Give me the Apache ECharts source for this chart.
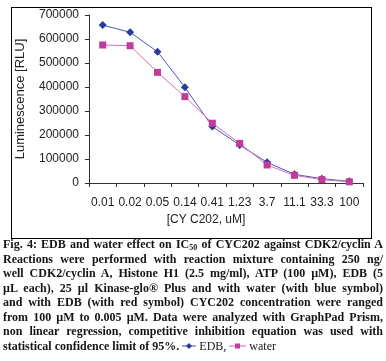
<!DOCTYPE html>
<html>
<head>
<meta charset="utf-8">
<script src="https://cdn.jsdelivr.net/npm/echarts@6/dist/echarts.min.js"></script>
<style>
  html, body { margin: 0; padding: 0; background: #fff; }
  #wrap { position: relative; width: 386px; height: 361px; overflow: hidden; }
  #chart { position: absolute; left: 0; top: 0; width: 386px; height: 361px; z-index: 1; }
  #box { position: absolute; left: 11px; top: 7px; width: 359px; height: 230px; border: 1px solid #000; pointer-events: none; z-index: 10; }
  #cap { position: absolute; left: 3px; top: 237px; width: 380px; z-index: 5;
         font-family: "Liberation Serif", serif; font-weight: bold; font-size: 12px;
         line-height: 14.5px; color: #151515; }
  #cap .l { text-align: justify; text-align-last: justify; white-space: normal; }
  #cap .last { text-align: left; }
  #cap sub { font-size: 8px; line-height: 0; vertical-align: -2px; }
  .lg { font-weight: normal; }
</style>
</head>
<body>
<div id="wrap">
  <div id="chart"></div>
  <div id="box"></div>
  <div id="cap">
    <div class="l">Fig. 4: EDB and water effect on IC<sub>50</sub> of CYC202 against CDK2/cyclin A</div>
    <div class="l">Reactions were performed with reaction mixture containing 250 ng/</div>
    <div class="l">well CDK2/cyclin A, Histone H1 (2.5 mg/ml), ATP (100 µM), EDB (5</div>
    <div class="l">µL each), 25 µl Kinase-glo® Plus and with water (with blue symbol)</div>
    <div class="l">and with EDB (with red symbol) CYC202 concentration were ranged</div>
    <div class="l">from 100 µM to 0.005 µM. Data were analyzed with GraphPad Prism,</div>
    <div class="l">non linear regression, competitive inhibition equation was used with</div>
    <div class="last">statistical confidence limit of 95%. <svg width="14" height="8" style="vertical-align:0px"><line x1="0" y1="4" x2="14" y2="4" stroke="#3d4fa8" stroke-width="1"/><path d="M7 1 L10 4 L7 7 L4 4 Z" fill="#2b3b99"/></svg><span class="lg"> EDB, </span><svg width="17" height="8" style="vertical-align:0px"><line x1="0" y1="4" x2="17" y2="4" stroke="#cc66bb" stroke-width="1"/><rect x="6" y="1.5" width="5" height="5" fill="#c23b9a"/></svg><span class="lg"> water</span></div>
  </div>
</div>
<script>
const categories = ['0.01', '0.02', '0.05', '0.14', '0.41', '1.23', '3.7', '11.1', '33.3', '100'];
const edbValues = [658000, 628000, 547000, 399000, 235000, 158000, 86000, 36000, 18000, 7000];
const waterValues = [575000, 572000, 461000, 360000, 249000, 165000, 75000, 32000, 14000, 5000];
const yTicks = { min: 0, max: 700000, interval: 100000 };

const chart = echarts.init(document.getElementById('chart'), null, { renderer: 'canvas' });
const font = 'Liberation Sans, Arial, sans-serif';
chart.setOption({
  animation: false,
  backgroundColor: 'transparent',
  textStyle: { fontFamily: font },
  grid: { left: 89, right: 23, top: 15, bottom: 178, containLabel: false },
  graphic: [
    { type: 'text', x: 206, y: 220,
      style: { text: '[CY C202, uM]', font: '12px ' + font, fill: '#222',
               textAlign: 'center', textVerticalAlign: 'middle' } }
  ],
  xAxis: {
    type: 'category',
    data: categories,
    boundaryGap: true,
    axisLine: { lineStyle: { color: '#333', width: 1 } },
    axisTick: { show: true, length: 4, lineStyle: { color: '#333' } },
    axisLabel: { color: '#222', fontSize: 12, margin: 14, interval: 0 },
    splitLine: { show: false }
  },
  yAxis: {
    type: 'value',
    min: yTicks.min, max: yTicks.max, interval: yTicks.interval,
    name: 'Luminescence [RLU]',
    nameLocation: 'middle',
    nameGap: 62,
    nameTextStyle: { color: '#222', fontSize: 13, fontFamily: font },
    axisLine: { show: true, lineStyle: { color: '#333', width: 1 } },
    axisTick: { show: true, length: 4, lineStyle: { color: '#333' } },
    axisLabel: { color: '#222', fontSize: 12, margin: 10, formatter: function (v) { return String(v); } },
    splitLine: { show: false }
  },
  series: [
    { name: 'EDB', type: 'line', data: edbValues, symbol: 'diamond', symbolSize: 8,
      lineStyle: { color: '#4a5bb3', width: 1 },
      itemStyle: { color: '#2b3b99' } },
    { name: 'water', type: 'line', data: waterValues, symbol: 'rect', symbolSize: 7,
      lineStyle: { color: '#d070c0', width: 1 },
      itemStyle: { color: '#c23b9a' } }
  ]
});
</script>
</body>
</html>
